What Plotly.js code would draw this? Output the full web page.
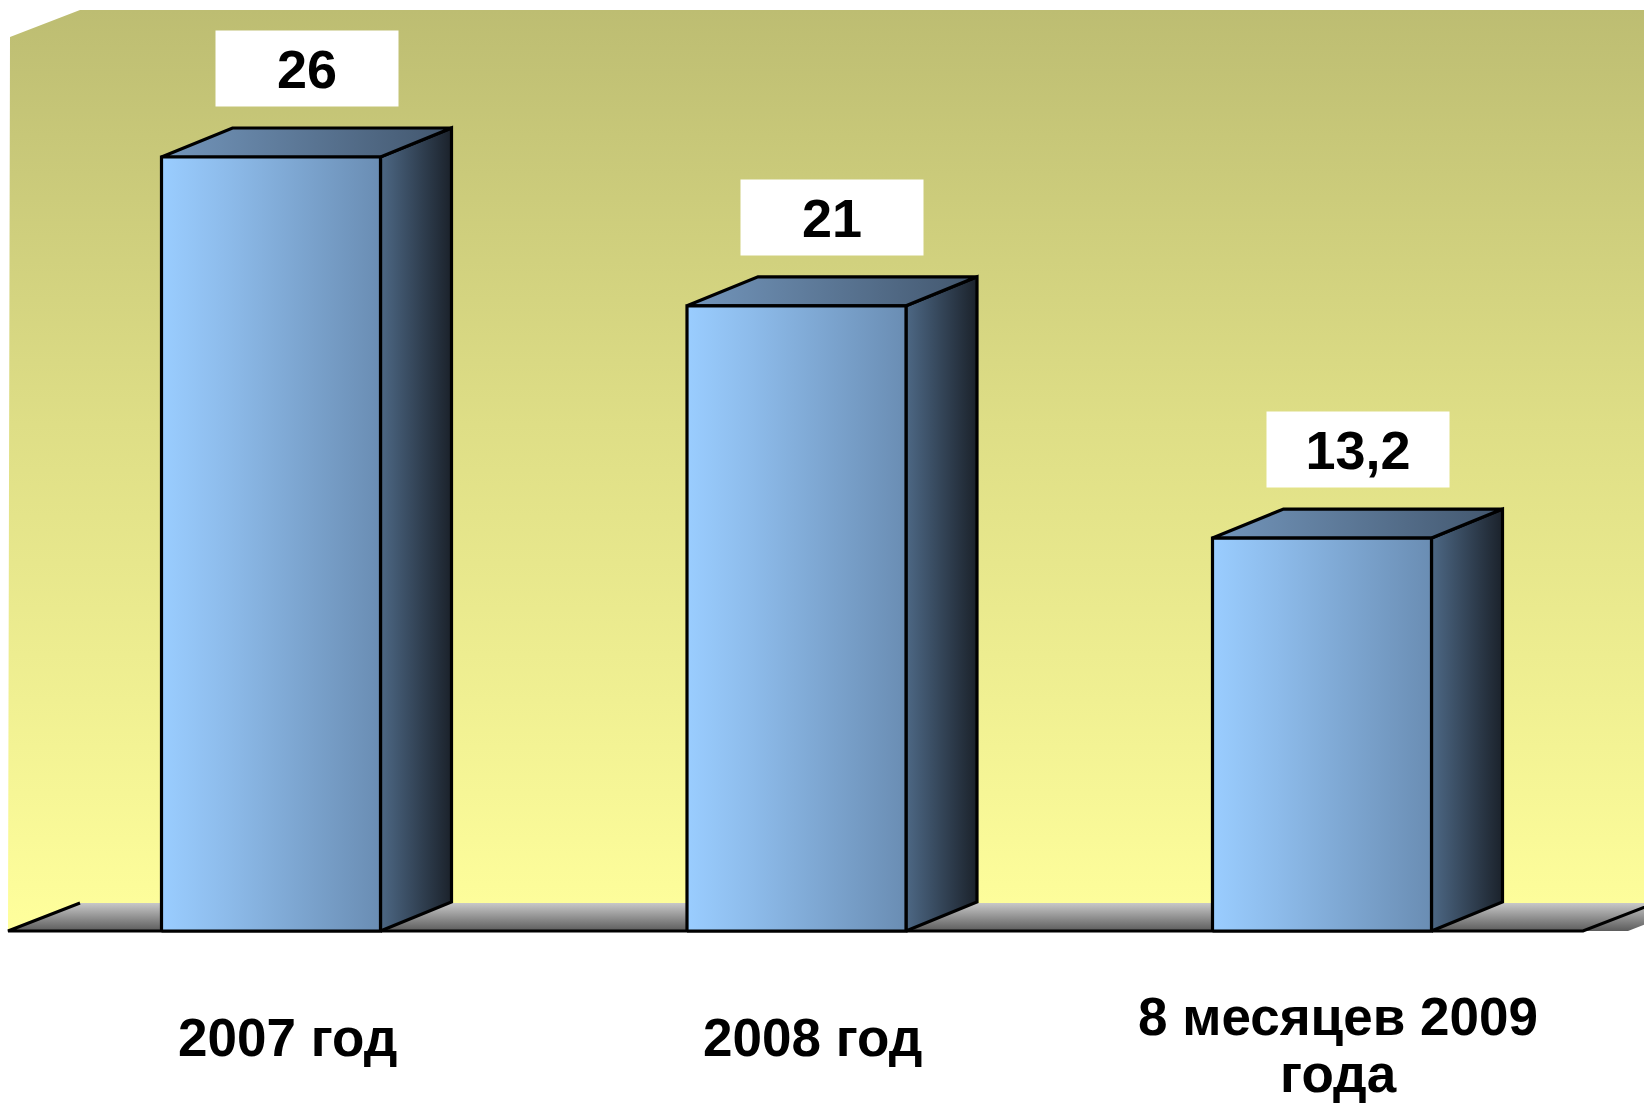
<!DOCTYPE html>
<html>
<head>
<meta charset="utf-8">
<script src="https://cdn.plot.ly/plotly-3.0.1.min.js"></script>
<style>
  html, body { margin: 0; padding: 0; background: #ffffff; }
  #chart { width: 1644px; height: 1106px; }
</style>
</head>
<body>
<div id="chart"></div>
<script>
// ---- data ----
const categories = ['2007 год', '2008 год', '8 месяцев 2009\nгода'];
const values = [26, 21, 13.2];
const valueLabels = ['26', '21', '13,2'];

// ---- geometry / scales (styling only) ----
const W = 1644, H = 1106;
const PXU = 525.5;              // pixels per category step
const X0 = -271 / PXU;          // x-range start
const FLOOR_PX = 931;           // pixel row of value 0 (front floor edge)
const PYU = 29.77;              // pixels per value unit
const xu = p => X0 + p / PXU;
const yu = p => (FLOOR_PX - p) / PYU;

const BW = 219 / PXU;           // bar front width (x units)
const DX = 71 / PXU;            // 3D depth offset in x units
const DY = 29 / PYU;            // 3D depth offset in y units

const traces = [];
const base = {type: 'scatter', mode: 'lines', fill: 'toself', hoverinfo: 'skip', showlegend: false};

// back + left wall
traces.push(Object.assign({}, base, {
  x: [xu(10), xu(80), xu(1700), xu(1700), xu(80), xu(8), xu(10)],
  y: [yu(37), yu(10), yu(10), yu(903), yu(903), yu(931), yu(37)],
  line: {width: 0, color: 'rgba(0,0,0,0)'},
  fillcolor: '#E0E088',
  fillgradient: {type: 'vertical', start: yu(10), stop: yu(931),
    colorscale: [[0, '#BDBD72'], [0.45, '#DEDE86'], [1, '#FFFF9C']]}
}));

// floor
traces.push(Object.assign({}, base, {
  x: [xu(8), xu(80), xu(1700), xu(1628), xu(8)],
  y: [yu(931), yu(903), yu(903), yu(931), yu(931)],
  line: {width: 0, color: 'rgba(0,0,0,0)'},
  fillcolor: '#999999',
  fillgradient: {type: 'vertical', start: yu(903), stop: yu(931),
    colorscale: [[0, '#C8C8C8'], [1, '#5C5C5C']]}
}));
// floor outline (front edge and diagonals)
traces.push({type: 'scatter', mode: 'lines', hoverinfo: 'skip', showlegend: false,
  x: [xu(80), xu(8), xu(1583), xu(1655)],
  y: [yu(903), yu(931), yu(931), yu(903)],
  line: {color: '#000000', width: 3}
});

// bars: side, top, front faces
values.forEach((v, i) => {
  const L = i - BW / 2, R = i + BW / 2;
  const edge = {color: '#000000', width: 3.2};
  traces.push(Object.assign({}, base, {
    x: [R, R + DX, R + DX, R, R],
    y: [0, DY, v + DY, v, 0],
    line: edge, fillcolor: '#35475B',
    fillgradient: {type: 'horizontal', start: R, stop: R + DX,
      colorscale: [[0, '#4D6885'], [1, '#1B222B']]}
  }));
  traces.push(Object.assign({}, base, {
    x: [L, L + DX, R + DX, R, L],
    y: [v, v + DY, v + DY, v, v],
    line: edge, fillcolor: '#5B7797',
    fillgradient: {type: 'horizontal', start: L, stop: R + DX,
      colorscale: [[0, '#7396BC'], [1, '#42566D']]}
  }));
  traces.push(Object.assign({}, base, {
    x: [L, R, R, L, L],
    y: [0, 0, v, v, 0],
    line: edge, fillcolor: '#82ADDA',
    fillgradient: {type: 'horizontal', start: L, stop: R,
      colorscale: [[0, '#9ACDFF'], [0.3, '#8DBBEA'], [1, '#6A8DB3']]}
  }));
});

const FONT = {family: 'Liberation Sans, Arial, sans-serif', size: 53, color: '#000000', weight: 'bold'};
const annotations = [];
// value boxes
values.forEach((v, i) => {
  annotations.push({
    x: i + DX / 2, y: v + DY + 21 / PYU, xref: 'x', yref: 'y',
    xanchor: 'center', yanchor: 'bottom',
    text: valueLabels[i], showarrow: false,
    bgcolor: '#FFFFFF', width: 182, height: 75, borderpad: 0,
    align: 'center', valign: 'middle',
    font: Object.assign({}, FONT, {size: 54})
  });
});
// category labels (one annotation per line for exact line pitch)
categories.forEach((c, i) => {
  const lines = c.split('\n');
  const pitch = 57;
  const first = 1037 - (lines.length - 1) * 20.5;
  lines.forEach((ln, k) => {
    annotations.push({
      x: i + 16 / PXU, y: yu(first + k * pitch), xref: 'x', yref: 'y',
      xanchor: 'center', yanchor: 'middle',
      text: ln, showarrow: false,
      font: FONT
    });
  });
});

const layout = {
  width: W, height: H,
  margin: {l: 0, r: 0, t: 0, b: 0, pad: 0},
  paper_bgcolor: '#FFFFFF', plot_bgcolor: '#FFFFFF',
  xaxis: {range: [xu(0), xu(W)], visible: false, fixedrange: true},
  yaxis: {range: [yu(H), yu(0)], visible: false, fixedrange: true},
  annotations: annotations,
  showlegend: false
};

Plotly.newPlot('chart', traces, layout, {staticPlot: true, displayModeBar: false});
</script>
</body>
</html>
